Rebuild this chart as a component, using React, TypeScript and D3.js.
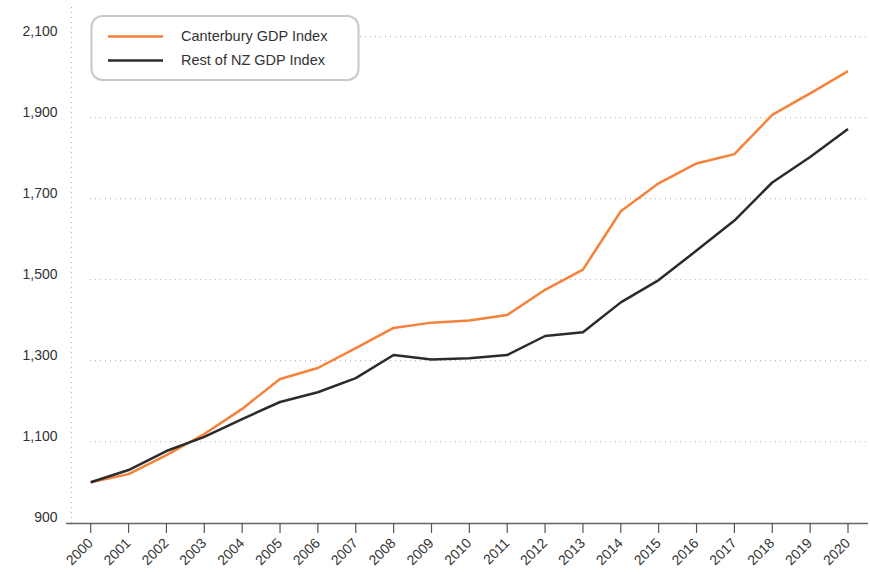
import React from "react";
import * as d3 from "d3";

const years = [2000, 2001, 2002, 2003, 2004, 2005, 2006, 2007, 2008, 2009, 2010, 2011, 2012, 2013, 2014, 2015, 2016, 2017, 2018, 2019, 2020];
const canterbury = [1000, 1020, 1067, 1119, 1181, 1255, 1282, 1331, 1381, 1394, 1399, 1413, 1475, 1525, 1669, 1738, 1787, 1810, 1907, 1960, 2015];
const restOfNZ = [1000, 1030, 1077, 1112, 1156, 1198, 1222, 1257, 1314, 1303, 1306, 1314, 1361, 1370, 1444, 1499, 1572, 1646, 1740, 1803, 1872];
const yTicks = [900, 1100, 1300, 1500, 1700, 1900, 2100];
const seriesNames = ["Canterbury GDP Index", "Rest of NZ GDP Index"];
const seriesColors = ["#F5813A", "#2b2b2b"];

export default function App() {
  const W = 870, H = 574;
  const x = d3.scaleLinear().domain([2000, 2020]).range([90.7, 848]);
  const y = d3.scaleLinear().domain([900, 2100]).range([522.7, 36.7]);
  const line = d3.line<number>().x((_, i) => x(years[i])).y((d) => y(d));
  const font = "'Liberation Sans', Arial, Helvetica, sans-serif";
  const series = [canterbury, restOfNZ];
  return (
    <svg width={W} height={H} style={{ position: "absolute", left: 0, top: 0 }} fontFamily={font}>
      <rect width={W} height={H} fill="#fff" />
      <line x1={71.5} x2={71.5} y1={7} y2={522.7} stroke="#aaa" strokeDasharray="1 4" />
      {yTicks.map((t) => (
        <g key={t}>
          {t !== 900 && (
            <line x1={90} x2={868} y1={y(t)} y2={y(t)} stroke="#aaa" strokeDasharray="1 4" />
          )}
          <text x={57.5} y={y(t)} dy={-0.5} textAnchor="end" fontSize={14} fill="#333">
            {d3.format(",")(t)}
          </text>
        </g>
      ))}
      <line x1={66} x2={868} y1={523.5} y2={523.5} stroke="#666" strokeWidth={1.5} />
      {years.map((yr) => (
        <g key={yr}>
          <line x1={x(yr)} x2={x(yr)} y1={523.5} y2={533} stroke="#555" strokeWidth={1.2} />
          <text
            transform={`translate(${x(yr) + 3},${544}) rotate(-45)`}
            textAnchor="end"
            fontSize={14}
            fill="#333"
          >
            {yr}
          </text>
        </g>
      ))}
      {series.map((s, i) => (
        <path key={i} d={line(s) || ""} fill="none" stroke={seriesColors[i]} strokeWidth={2.5} strokeLinejoin="round" />
      ))}
      <rect x={91.5} y={16} width={267} height={64} rx={11} fill="#fff" stroke="#c8c8c8" strokeWidth={2} />
      {seriesNames.map((n, i) => (
        <g key={n}>
          <line x1={108} x2={163} y1={36.5 + i * 24} y2={36.5 + i * 24} stroke={seriesColors[i]} strokeWidth={2.5} />
          <text x={181} y={41 + i * 24} fontSize={14.5} fill="#333">
            {n}
          </text>
        </g>
      ))}
    </svg>
  );
}
